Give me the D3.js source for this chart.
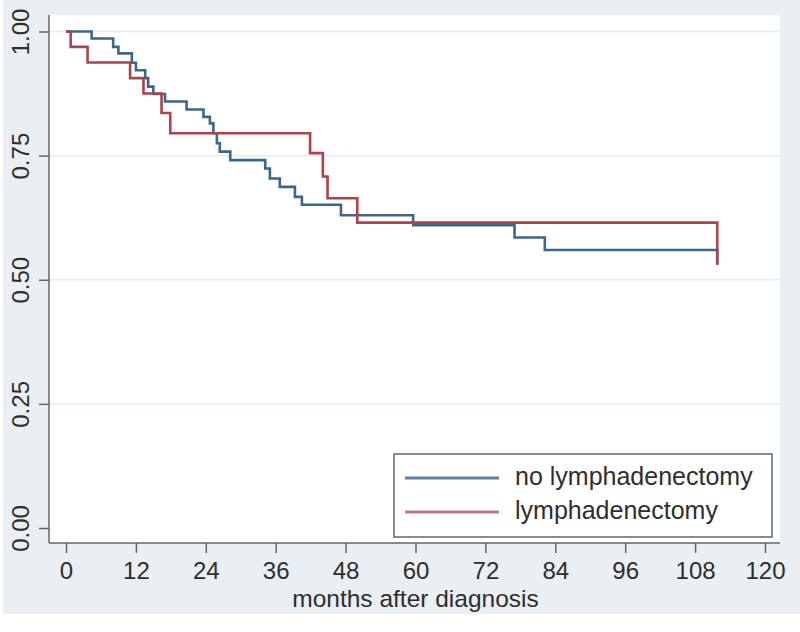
<!DOCTYPE html>
<html>
<head>
<meta charset="utf-8">
<script src="https://cdn.jsdelivr.net/npm/d3@7"></script>
<style>
  html, body { margin: 0; padding: 0; background: #ffffff; }
  svg { display: block; }
  text { font-family: "Liberation Sans", Arial, sans-serif; fill: #2e2e2e; }
</style>
</head>
<body>
<svg id="chart" width="800" height="632"></svg>
<script>
// ---- data ----
const xTickValues = [0, 12, 24, 36, 48, 60, 72, 84, 96, 108, 120];
const yTickValues = [0, 0.25, 0.5, 0.75, 1];
const xAxisTitle = "months after diagnosis";
const seriesNames = ["no lymphadenectomy", "lymphadenectomy"];

// no lymphadenectomy: Kaplan–Meier step points (months, survival)
const noLymphTimes = [0, 4.4, 8.1, 9.0, 11.3, 12.0, 13.6, 14.1, 15.0, 17.0, 20.7, 23.6, 24.7, 25.3, 25.9, 26.4, 28.2, 34.2, 35.0, 36.7, 39.3, 40.5, 47.2, 59.6, 77.0, 82.2, 111.8];
const noLymphSurv  = [1.000, 0.986, 0.969, 0.956, 0.937, 0.922, 0.906, 0.889, 0.874, 0.859, 0.843, 0.828, 0.815, 0.795, 0.775, 0.758, 0.741, 0.724, 0.704, 0.687, 0.667, 0.651, 0.630, 0.610, 0.585, 0.560, 0.530];

// lymphadenectomy
const lymphTimes = [0, 0.8, 3.7, 11.0, 13.3, 16.4, 17.9, 41.9, 44.1, 44.9, 50.0, 111.8];
const lymphSurv  = [1.000, 0.969, 0.9375, 0.906, 0.875, 0.836, 0.795, 0.755, 0.708, 0.664, 0.615, 0.530];

const seriesColors = ["#3b6788", "#a9444c"];
const legendColors = ["#5c84a3", "#b97a80"];

// ---- layout ----
const svg = d3.select("#chart");
const bg = { x: 3, y: 0, w: 797, h: 614 };
const plot = { left: 49, right: 780, top: 15, bottom: 543 };

const x = d3.scaleLinear().domain([0, 120]).range([66, 765]);
const y = d3.scaleLinear().domain([0, 1]).range([528, 31.5]);

svg.append("rect").attr("x", bg.x).attr("y", bg.y).attr("width", bg.w).attr("height", bg.h)
  .attr("fill", "#e9eff2");
svg.append("rect").attr("x", plot.left).attr("y", plot.top)
  .attr("width", plot.right - plot.left).attr("height", plot.bottom - plot.top)
  .attr("fill", "#ffffff");

// gridlines
svg.append("g").selectAll("line").data(yTickValues.filter(d => d > 0)).join("line")
  .attr("x1", plot.left).attr("x2", plot.right)
  .attr("y1", d => y(d)).attr("y2", d => y(d))
  .attr("stroke", "#e6edf0").attr("stroke-width", 1.5);

// y axis
const yAxis = d3.axisLeft(y).tickValues(yTickValues).tickFormat(d3.format(".2f"))
  .tickSize(10).tickPadding(8);
const gy = svg.append("g").attr("transform", `translate(${plot.left},0)`).call(yAxis);
gy.select(".domain").attr("d", `M0,${plot.top}V${plot.bottom}`).attr("stroke", "#666").attr("stroke-width", 1.5);
gy.selectAll(".tick line").attr("stroke", "#666").attr("stroke-width", 1.5);
gy.selectAll(".tick text")
  .attr("x", null).attr("dy", null).attr("text-anchor", "middle")
  .attr("transform", "translate(-20,0) rotate(-90)")
  .attr("y", 0)
  .style("font-size", "24px").style("fill", "#2e2e2e")
  .style("font-family", '"Liberation Sans", Arial, sans-serif');

// x axis
const xAxis = d3.axisBottom(x).tickValues(xTickValues).tickFormat(d3.format("d"))
  .tickSize(10).tickPadding(8);
const gx = svg.append("g").attr("transform", `translate(0,${plot.bottom})`).call(xAxis);
gx.select(".domain").attr("d", `M${plot.left},0H${plot.right}`).attr("stroke", "#666").attr("stroke-width", 1.5);
gx.selectAll(".tick line").attr("stroke", "#666").attr("stroke-width", 1.5);
gx.selectAll(".tick text").attr("dy", null).attr("y", 36)
  .style("font-size", "24px").style("fill", "#2e2e2e")
  .style("font-family", '"Liberation Sans", Arial, sans-serif');

svg.append("text").attr("x", (x(0) + x(120)) / 2).attr("y", 607)
  .attr("text-anchor", "middle").style("font-size", "24.5px").text(xAxisTitle);

// curves
const line = d3.line().x(d => x(d[0])).y(d => y(d[1])).curve(d3.curveStepAfter);
const series = [
  d3.zip(noLymphTimes, noLymphSurv),
  d3.zip(lymphTimes, lymphSurv)
];
svg.append("g").selectAll("path").data(series).join("path")
  .attr("d", line).attr("fill", "none")
  .attr("stroke", (d, i) => seriesColors[i]).attr("stroke-width", 2.6);

// legend
const lg = svg.append("g");
lg.append("rect").attr("x", 394).attr("y", 454).attr("width", 378).attr("height", 83)
  .attr("fill", "#ffffff").attr("stroke", "#666").attr("stroke-width", 1.5);
const rows = lg.selectAll("g.row").data(seriesNames).join("g").attr("class", "row")
  .attr("transform", (d, i) => `translate(0,${478 + i * 34})`);
rows.append("line").attr("x1", 405).attr("x2", 499).attr("y1", 0).attr("y2", 0)
  .attr("stroke", (d, i) => legendColors[i]).attr("stroke-width", 3);
rows.append("text").attr("x", 515).attr("y", 7).style("font-size", "25px").text(d => d);
</script>
</body>
</html>
